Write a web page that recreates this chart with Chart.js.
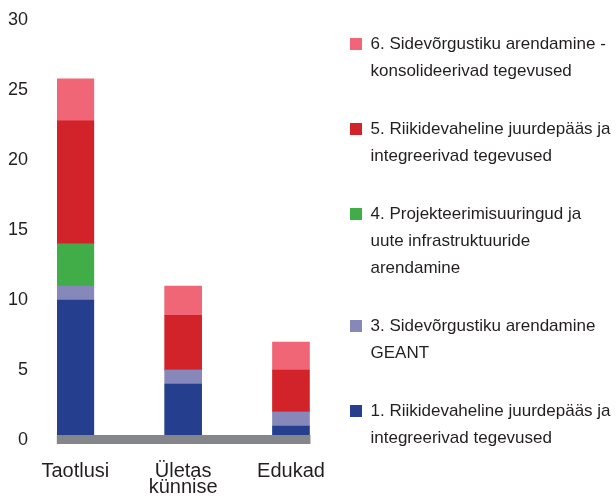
<!DOCTYPE html>
<html>
<head>
<meta charset="utf-8">
<script src="https://cdn.jsdelivr.net/npm/chart.js@4.4.1/dist/chart.umd.min.js"></script>
<style>
  html, body { margin: 0; padding: 0; background: #fff; }
  #wrap { width: 616px; height: 497px; }
</style>
</head>
<body>
<div id="wrap"><canvas id="chart"></canvas></div>
<script>
// categories on the x axis (array = label on two lines)
const categories = ["Taotlusi", ["Ületas", "künnise"], "Edukad"];
const xPositions = [0, 1, 2];
const yTicks = [0, 5, 10, 15, 20, 25, 30];

// legend texts, already split in lines like in the original
const name1 = ["1. Riikidevaheline juurdepääs ja", "integreerivad tegevused"];
const name3 = ["3. Sidevõrgustiku arendamine", "GEANT"];
const name4 = ["4. Projekteerimisuuringud ja", "uute infrastruktuuride", "arendamine"];
const name5 = ["5. Riikidevaheline juurdepääs ja", "integreerivad tegevused"];
const name6 = ["6. Sidevõrgustiku arendamine -", "konsolideerivad tegevused"];

// values per category (Taotlusi, Ületas künnise, Edukad)
const values1 = [10, 4, 1];
const values3 = [1, 1, 1];
const values4 = [3, 0, 0];
const values5 = [8.8, 3.9, 3];
const values6 = [3, 2.1, 2];

const textColor = "#231f20";
const fontFamily = "'Liberation Sans', Arial, sans-serif";

// grey base strip under the bars (from first bar to last bar)
const baseLine = {
  id: "baseLine",
  afterDatasetsDraw(chart) {
    const bars = chart.getDatasetMeta(0).data;
    const first = bars[0];
    const last = bars[bars.length - 1];
    const left = first.x - first.width / 2;
    const right = last.x + last.width / 2 + 1;
    const y0 = chart.scales.y.getPixelForValue(0);
    const ctx = chart.ctx;
    ctx.save();
    ctx.fillStyle = "#848689";
    ctx.fillRect(left, y0 - 5, right - left, 9);
    ctx.restore();
  }
};

new Chart(document.getElementById("chart"), {
  type: "bar",
  data: {
    labels: xPositions,
    datasets: [
      { label: name1, data: values1, backgroundColor: "#253f8e" },
      { label: name3, data: values3, backgroundColor: "#8788ba" },
      { label: name4, data: values4, backgroundColor: "#41ad49" },
      { label: name5, data: values5, backgroundColor: "#d2232a" },
      { label: name6, data: values6, backgroundColor: "#f06677" }
    ].map(ds => ({ ...ds, borderWidth: 0, barThickness: 37 }))
  },
  options: {
    responsive: true,
    maintainAspectRatio: false,
    animation: false,
    layout: { padding: { top: 4.5, right: 0, bottom: 0, left: 0 } },
    plugins: {
      tooltip: { enabled: false },
      legend: {
        position: "right",
        align: "start",
        reverse: true,
        maxWidth: 297,
        labels: {
          boxWidth: 12,
          boxHeight: 12,
          padding: 31,
          color: textColor,
          font: { family: fontFamily, size: 17, lineHeight: "27px" }
        }
      }
    },
    scales: {
      x: {
        type: "linear",
        stacked: true,
        offset: false,
        min: -0.17,
        max: 2.26,
        grid: { display: false, drawTicks: false },
        border: { display: false },
        afterBuildTicks: (axis) => { axis.ticks = xPositions.map(v => ({ value: v })); },
        afterFit: (scale) => {
          scale.height = 57;
          scale.paddingLeft = 0;
          scale.paddingRight = 0;
        },
        ticks: {
          padding: 23,
          maxRotation: 0,
          autoSkip: false,
          color: textColor,
          font: { family: fontFamily, size: 20, lineHeight: "16px" },
          callback: (value) => categories[value]
        }
      },
      y: {
        stacked: true,
        min: 0,
        max: 31.1,
        grid: { display: false, drawTicks: false },
        border: { display: false },
        afterBuildTicks: (axis) => { axis.ticks = yTicks.map(v => ({ value: v })); },
        afterFit: (scale) => {
          scale.width = 57;
          scale.paddingTop = 0;
          scale.paddingBottom = 0;
        },
        ticks: {
          padding: 29,
          color: textColor,
          font: { family: fontFamily, size: 18 }
        }
      }
    }
  },
  plugins: [baseLine]
});
</script>
</body>
</html>
